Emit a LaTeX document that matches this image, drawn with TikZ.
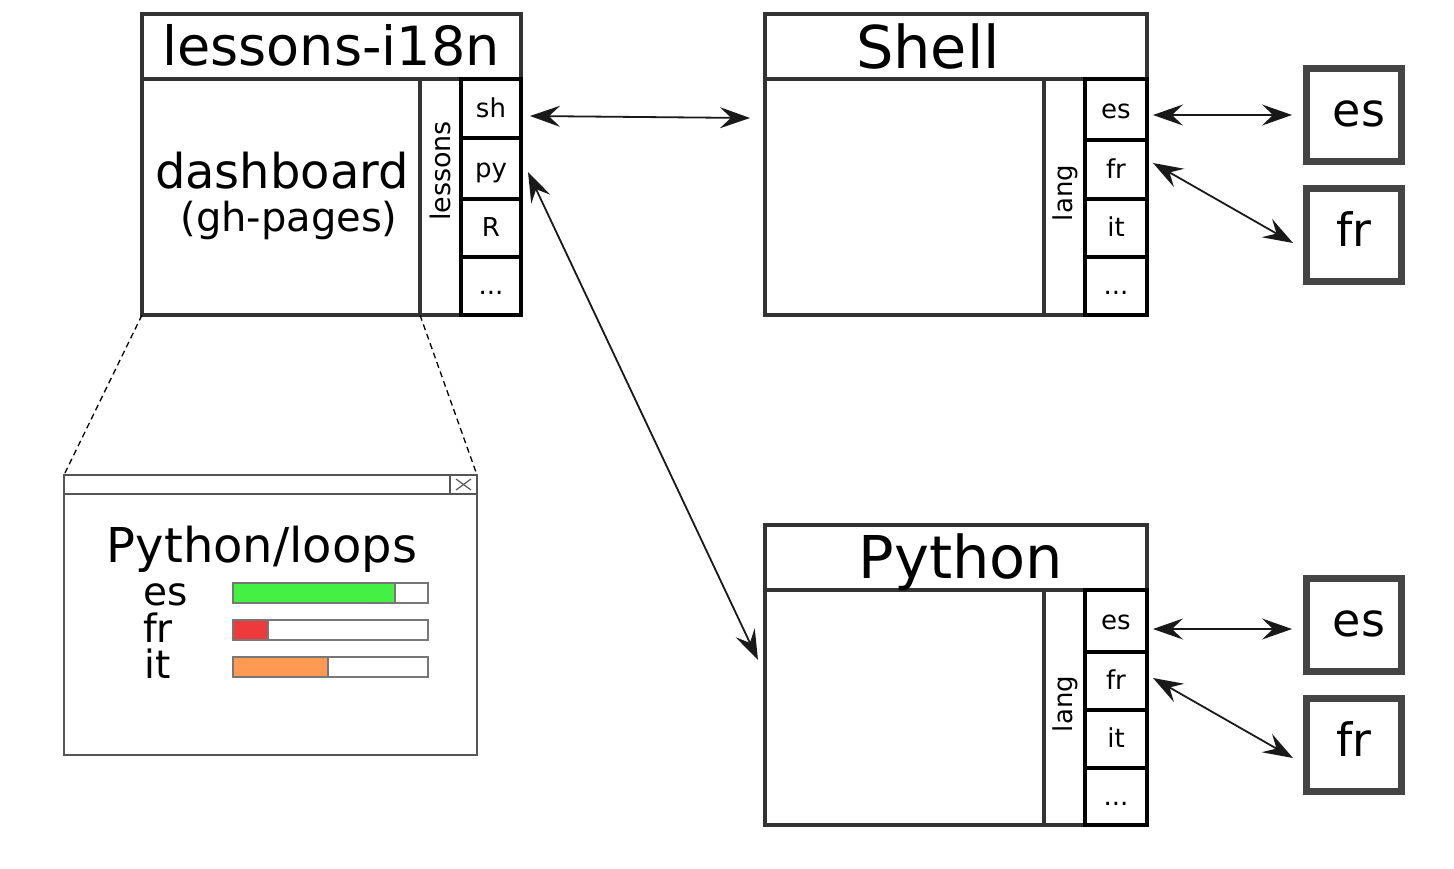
\documentclass[tikz,border=0pt]{standalone}
\usepackage{fontspec}
\setmainfont{DejaVu Sans}
\usetikzlibrary{arrows.meta}
\definecolor{frameC}{HTML}{333333}
\definecolor{rboxC}{HTML}{444444}
\definecolor{winC}{HTML}{555555}
\definecolor{barC}{HTML}{777777}
\definecolor{greenC}{HTML}{44F044}
\definecolor{redC}{HTML}{EE3A3A}
\definecolor{orangeC}{HTML}{FF9A55}
\begin{document}
\begin{tikzpicture}[x=1pt,y=-1pt,
  frame/.style={rectangle,draw=frameC,line width=3.5pt,fill=white,inner sep=0pt,outer sep=0pt,anchor=north west},
  cellbox/.style={rectangle,draw=black,line width=4.5pt,fill=white,inner sep=0pt,outer sep=0pt,anchor=north west,
    font=\fontsize{26}{30}\selectfont,text height=19pt,text depth=2pt,minimum width=60},
  rbox/.style={rectangle,draw=rboxC,line width=7pt,fill=white,inner sep=0pt,outer sep=0pt,anchor=north west,
    minimum width=95,minimum height=93,font=\fontsize{46}{50}\selectfont,text height=22pt,text depth=0pt},
  winbox/.style={rectangle,draw=winC,line width=2pt,fill=white,inner sep=0pt,outer sep=0pt,anchor=north west},
  bar/.style={rectangle,draw=barC,line width=1.5pt,inner sep=0pt,outer sep=0pt,anchor=north west,minimum height=20},
  biarrow/.style={draw=black!90,line width=1.8pt,{Stealth[length=30pt,width=21pt,inset=11pt]}-{Stealth[length=30pt,width=21pt,inset=11pt]}},
  zoomline/.style={draw=black,line width=1.3pt,dash pattern=on 6pt off 4pt},
  rottext/.style={rotate=90,font=\fontsize{26}{30}\selectfont,inner sep=0pt},
  titletext/.style={anchor=base,inner sep=0pt}
]
\useasboundingbox (0,0) rectangle (1454,868);

% ---------- lessons-i18n ----------
\node[frame,minimum width=379,minimum height=301] (lbox) at (142,14) {};
\node[frame,minimum width=379,minimum height=65] (ltitle) at (142,14) {};
\node[frame,minimum width=41,minimum height=236] (lcol) at (420,79) {};
\node[cellbox,minimum height=59] (sh) at (461,79) {sh};
\node[cellbox,minimum height=61] (py) at (461,138) {py};
\node[cellbox,minimum height=58] (rl) at (461,199) {R};
\node[cellbox,minimum height=58] (ldots) at (461,257) {...};
\node[titletext,font=\fontsize{54}{60}\selectfont] (ltxt) at (331,65) {lessons-i18n};
\node[titletext,font=\fontsize{48}{55}\selectfont] (dash) at (282,188) {dashboard};
\node[titletext,font=\fontsize{40}{46}\selectfont] (ghp) at (289,231) {(gh-pages)};
\node[rottext,font=\fontsize{27}{30}\selectfont] (lessons) at (440,171) {lessons};

% ---------- Shell ----------
\node[frame,minimum width=382,minimum height=301] (sbox) at (765,14) {};
\node[frame,minimum width=382,minimum height=65] (stitle) at (765,14) {};
\node[frame,minimum width=41,minimum height=236] (scol) at (1044,79) {};
\node[cellbox,minimum width=62,minimum height=61] (ses) at (1085,79) {es};
\node[cellbox,minimum width=62,minimum height=59] (sfr) at (1085,140) {fr};
\node[cellbox,minimum width=62,minimum height=58] (sit) at (1085,199) {it};
\node[cellbox,minimum width=62,minimum height=58] (sdots) at (1085,257) {...};
\node[titletext,font=\fontsize{59}{66}\selectfont] (stxt) at (928,68) {Shell};
\node[rottext] (slang) at (1065,193) {lang};

% ---------- Python ----------
\node[frame,minimum width=382,minimum height=300] (pbox) at (765,525) {};
\node[frame,minimum width=382,minimum height=65] (ptitle) at (765,525) {};
\node[frame,minimum width=41,minimum height=235] (pcol) at (1044,590) {};
\node[cellbox,minimum width=62,minimum height=62] (pes) at (1085,590) {es};
\node[cellbox,minimum width=62,minimum height=58] (pfr) at (1085,652) {fr};
\node[cellbox,minimum width=62,minimum height=58] (pit) at (1085,710) {it};
\node[cellbox,minimum width=62,minimum height=57] (pdots) at (1085,768) {...};
\node[titletext,font=\fontsize{59}{66}\selectfont] (ptxt) at (961,578) {Python};
\node[rottext] (plang) at (1065,704) {lang};

% ---------- right language boxes ----------
\node[rbox] (res1) at (1306.5,68.5) {\hspace*{10pt}es};
\node[rbox] (rfr1) at (1306.5,188.5) {fr};
\node[rbox] (res2) at (1306.5,578.5) {\hspace*{10pt}es};
\node[rbox] (rfr2) at (1306.5,698.5) {fr};

% ---------- window ----------
\node[winbox,minimum width=413,minimum height=280] (win) at (64,475) {};
\node[winbox,minimum width=413,minimum height=19] (wbar) at (64,475) {};
\node[winbox,minimum width=27,minimum height=19] (wclose) at (450,475) {};
\draw[winC,line width=1.2pt] ([shift={(6,4)}]wclose.north west) -- ([shift={(-6,-4)}]wclose.south east);
\draw[winC,line width=1.2pt] ([shift={(-6,4)}]wclose.north east) -- ([shift={(6,-4)}]wclose.south west);
\node[titletext,font=\fontsize{48}{54}\selectfont] (wtitle) at (262,562) {Python/loops};
\node[anchor=base west,inner sep=0pt,font=\fontsize{39}{44}\selectfont] (wes) at (143,605) {es};
\node[anchor=base west,inner sep=0pt,font=\fontsize{39}{44}\selectfont] (wfr) at (143,642) {fr};
\node[anchor=base west,inner sep=0pt,font=\fontsize{39}{44}\selectfont] (wit) at (144,678) {it};
\node[bar,minimum width=195] (besbar) at (233,583) {};
\node[bar,fill=greenC,minimum width=162] (besfill) at (233,583) {};
\node[bar,minimum width=195] (bfrbar) at (233,620) {};
\node[bar,fill=redC,minimum width=35] (bfrfill) at (233,620) {};
\node[bar,minimum width=195] (bitbar) at (233,657) {};
\node[bar,fill=orangeC,minimum width=95] (bitfill) at (233,657) {};

% ---------- connectors ----------
\draw[zoomline] (lbox.south west) -- (win.north west);
\draw[zoomline] (lcol.south west) -- (win.north east);
\draw[biarrow] ([shift={(9,7.5)}]sh.east) -- ([shift={(-15,-46.5)}]sbox.west);
\draw[biarrow] ([shift={(7,3.5)}]py.east) -- ([shift={(-7,-15)}]pbox.west);
\draw[biarrow] ([shift={(6,5.5)}]ses.east) -- ([shift={(-14.5,0)}]res1.west);
\draw[biarrow] ([shift={(6,-6.5)}]sfr.east) -- ([shift={(-13.5,8)}]rfr1.west);
\draw[biarrow] ([shift={(6,8)}]pes.east) -- ([shift={(-14.5,4)}]res2.west);
\draw[biarrow] ([shift={(6,-3)}]pfr.east) -- ([shift={(-13.5,13)}]rfr2.west);
\end{tikzpicture}
\end{document}
